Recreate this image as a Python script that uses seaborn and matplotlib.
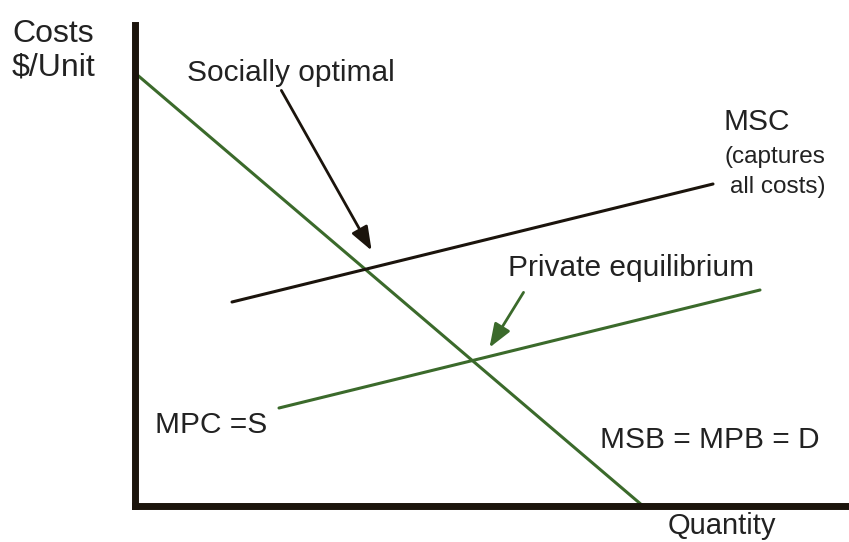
import pandas as pd
import seaborn as sns
import matplotlib.pyplot as plt

sns.set_theme(style="white")
plt.rcParams['font.family'] = ['Liberation Sans', 'DejaVu Sans']

GREEN = '#3b6a2b'
DARK = '#1b140c'

# curve end points (quantity, cost) in chart units
demand_q = [0, 508]
demand_c = [433, 0]
msc_q = [97, 578]
msc_c = [204, 322]
mpc_q = [144, 625]
mpc_c = [98, 216]

# arrows: (tail, head)
social_arrow = ((145, 418), (238, 253))
private_arrow = ((390, 216), (353, 156))


def plot_externality():
    fig = plt.figure(figsize=(8.49, 5.42), dpi=100)
    ax = fig.add_axes([135 / 849, 36 / 542, 714 / 849, 481 / 542])

    df = pd.concat([
        pd.DataFrame({'q': demand_q, 'c': demand_c, 'curve': 'D'}),
        pd.DataFrame({'q': msc_q, 'c': msc_c, 'curve': 'MSC'}),
        pd.DataFrame({'q': mpc_q, 'c': mpc_c, 'curve': 'MPC'}),
    ])
    sns.lineplot(data=df, x='q', y='c', hue='curve',
                 palette={'D': GREEN, 'MSC': DARK, 'MPC': GREEN},
                 linewidth=2.2, legend=False, ax=ax, sort=False)

    ax.set_xlim(0, 714)
    ax.set_ylim(0, 481)
    ax.set_xticks([])
    ax.set_yticks([])
    ax.set_xlabel('')
    ax.set_ylabel('')
    for side in ['top', 'right']:
        ax.spines[side].set_visible(False)
    for side in ['left', 'bottom']:
        ax.spines[side].set_linewidth(5)
        ax.spines[side].set_color(DARK)

    ax.annotate('', xy=social_arrow[1], xytext=social_arrow[0],
                arrowprops=dict(arrowstyle='-|>,head_length=0.8,head_width=0.3',
                                color=DARK, lw=2, mutation_scale=18))
    ax.annotate('', xy=private_arrow[1], xytext=private_arrow[0],
                arrowprops=dict(arrowstyle='-|>,head_length=0.8,head_width=0.3',
                                color=GREEN, lw=2, mutation_scale=18))

    tc = '#222222'
    fs = 21.5
    ax.text(52, 433, 'Socially optimal', fontsize=fs, color=tc, va='center')
    ax.text(589, 384, 'MSC', fontsize=fs, color=tc, va='center')
    ax.text(589, 349, '(captures', fontsize=17.5, color=tc, va='center')
    ax.text(595, 319, 'all costs)', fontsize=17.5, color=tc, va='center')
    ax.text(373, 238, 'Private equilibrium', fontsize=fs, color=tc, va='center')
    ax.text(20, 81, 'MPC =S', fontsize=fs, color=tc, va='center')
    ax.text(465, 66, 'MSB = MPB = D', fontsize=fs, color=tc, va='center')

    fig.text(12 / 849, 1 - 51 / 542, 'Costs\n$/Unit', fontsize=23, color=tc,
             va='center', linespacing=1.15)
    fig.text(668 / 849, 1 - 534 / 542, 'Quantity', fontsize=21, color=tc,
             va='baseline')

    fig.savefig('out.png', dpi=100)


if __name__ == "__main__":
    plot_externality()
